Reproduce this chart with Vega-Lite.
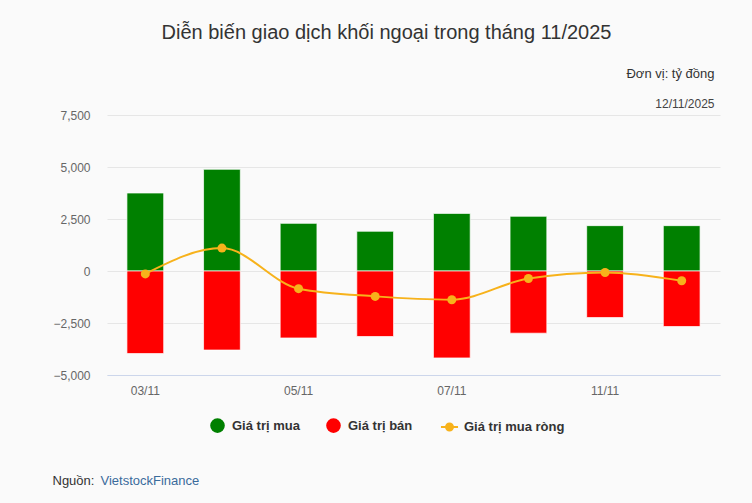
{
  "$schema": "https://vega.github.io/schema/vega-lite/v6.json",
  "width": 613,
  "height": 260,
  "autosize": "none",
  "padding": {"left": 107, "top": 115, "right": 32, "bottom": 128},
  "background": "#fafafa",
  "config": {
    "view": {"stroke": null},
    "font": "Liberation Sans"
  },
  "title": {
    "text": "Diễn biến giao dịch khối ngoại trong tháng 11/2025",
    "fontSize": 20,
    "fontWeight": "normal",
    "color": "#333333",
    "anchor": "middle",
    "dx": -27,
    "offset": 24
  },
  "data": {
    "values": [
      {"ngay": "03/11", "loai": "Giá trị mua", "gt": 3750},
      {"ngay": "04/11", "loai": "Giá trị mua", "gt": 4890},
      {"ngay": "05/11", "loai": "Giá trị mua", "gt": 2290},
      {"ngay": "06/11", "loai": "Giá trị mua", "gt": 1910},
      {"ngay": "07/11", "loai": "Giá trị mua", "gt": 2770},
      {"ngay": "10/11", "loai": "Giá trị mua", "gt": 2630},
      {"ngay": "11/11", "loai": "Giá trị mua", "gt": 2180},
      {"ngay": "12/11", "loai": "Giá trị mua", "gt": 2180},
      {"ngay": "03/11", "loai": "Giá trị bán", "gt": -3970},
      {"ngay": "04/11", "loai": "Giá trị bán", "gt": -3800},
      {"ngay": "05/11", "loai": "Giá trị bán", "gt": -3220},
      {"ngay": "06/11", "loai": "Giá trị bán", "gt": -3150},
      {"ngay": "07/11", "loai": "Giá trị bán", "gt": -4180},
      {"ngay": "10/11", "loai": "Giá trị bán", "gt": -2990},
      {"ngay": "11/11", "loai": "Giá trị bán", "gt": -2240},
      {"ngay": "12/11", "loai": "Giá trị bán", "gt": -2670},
      {"ngay": "03/11", "loai": "Giá trị mua ròng", "gt": -140},
      {"ngay": "04/11", "loai": "Giá trị mua ròng", "gt": 1100},
      {"ngay": "05/11", "loai": "Giá trị mua ròng", "gt": -850},
      {"ngay": "06/11", "loai": "Giá trị mua ròng", "gt": -1220},
      {"ngay": "07/11", "loai": "Giá trị mua ròng", "gt": -1380},
      {"ngay": "10/11", "loai": "Giá trị mua ròng", "gt": -360},
      {"ngay": "11/11", "loai": "Giá trị mua ròng", "gt": -70},
      {"ngay": "12/11", "loai": "Giá trị mua ròng", "gt": -470}
    ]
  },
  "encoding": {
    "x": {
      "field": "ngay",
      "type": "nominal",
      "sort": null,
      "scale": {"paddingInner": 0.52, "paddingOuter": 0.26}
    },
    "y": {
      "field": "gt",
      "type": "quantitative",
      "stack": null,
      "scale": {"domain": [-5000, 7500], "nice": false, "zero": false}
    },
    "color": {
      "field": "loai",
      "type": "nominal",
      "scale": {
        "domain": ["Giá trị mua", "Giá trị bán", "Giá trị mua ròng"],
        "range": ["#008000", "#ff0000", "#f7b21b"]
      },
      "legend": {
        "orient": "none",
        "legendX": 103,
        "legendY": 303,
        "direction": "horizontal",
        "title": null,
        "symbolSize": 160,
        "symbolStrokeWidth": 2,
        "labelFontSize": 13,
        "labelFontWeight": "bold",
        "labelColor": "#333333",
        "labelOffset": 7,
        "columnPadding": 23,
        "encode": {
          "symbols": {
            "update": {
              "shape": {"signal": "datum.value === 'Giá trị mua ròng' ? 'M-1.35,0H1.35M0.55,0A0.55,0.55,0,1,1,-0.55,0A0.55,0.55,0,1,1,0.55,0Z' : 'circle'"},
              "fill": {"scale": "color", "field": "value"},
              "stroke": {"scale": "color", "field": "value"},
              "opacity": {"value": 1}
            }
          }
        }
      }
    }
  },
  "layer": [
    {
      "transform": [{"filter": "datum.loai !== 'Giá trị mua ròng'"}],
      "mark": {"type": "bar", "stroke": "#ffffff", "strokeWidth": 1, "strokeOpacity": 0.7},
      "encoding": {
        "x": {
          "field": "ngay",
          "type": "nominal",
          "sort": null,
          "axis": {
            "values": ["03/11", "05/11", "07/11", "11/11"],
            "labelAngle": 0,
            "labelColor": "#666666",
            "labelFontSize": 12,
            "labelPadding": 10,
            "ticks": false,
            "domainColor": "#ccd6eb",
            "title": "Nguồn:",
            "titleX": -55,
            "titleY": 109,
            "titleAlign": "left",
            "titleBaseline": "alphabetic",
            "titleFontSize": 13,
            "titleFontWeight": "normal",
            "titleColor": "#333333"
          }
        },
        "y": {
          "field": "gt",
          "type": "quantitative",
          "axis": {
            "values": [-5000, -2500, 0, 2500, 5000, 7500],
            "format": ",.0f",
            "grid": true,
            "gridColor": "#e6e6e6",
            "domain": false,
            "ticks": false,
            "labelColor": "#666666",
            "labelFontSize": 12,
            "labelPadding": 17,
            "title": "12/11/2025",
            "titleAngle": 0,
            "titleX": 607,
            "titleY": -8,
            "titleAlign": "right",
            "titleBaseline": "alphabetic",
            "titleFontSize": 12,
            "titleFontWeight": "normal",
            "titleColor": "#444444"
          }
        }
      }
    },
    {
      "transform": [{"filter": "datum.loai === 'Giá trị mua ròng'"}],
      "mark": {
        "type": "line",
        "interpolate": "monotone",
        "strokeWidth": 2,
        "point": {"filled": true, "size": 81, "opacity": 1}
      },
      "encoding": {
        "x": {
          "field": "ngay",
          "type": "nominal",
          "sort": null,
          "axis": {
            "orient": "top",
            "labels": false,
            "ticks": false,
            "domain": false,
            "grid": false,
            "title": "VietstockFinance",
            "titleX": -7,
            "titleY": 369,
            "titleAlign": "left",
            "titleBaseline": "alphabetic",
            "titleFontSize": 13,
            "titleFontWeight": "normal",
            "titleColor": "#3a6b9c"
          }
        },
        "y": {
          "field": "gt",
          "type": "quantitative",
          "axis": {
            "orient": "right",
            "labels": false,
            "ticks": false,
            "domain": false,
            "grid": false,
            "title": "Đơn vị: tỷ đồng",
            "titleAngle": 0,
            "titleX": -6,
            "titleY": -38,
            "titleAlign": "right",
            "titleBaseline": "alphabetic",
            "titleFontSize": 13,
            "titleFontWeight": "normal",
            "titleColor": "#333333"
          }
        }
      }
    }
  ],
  "resolve": {"axis": {"x": "independent", "y": "independent"}}
}
